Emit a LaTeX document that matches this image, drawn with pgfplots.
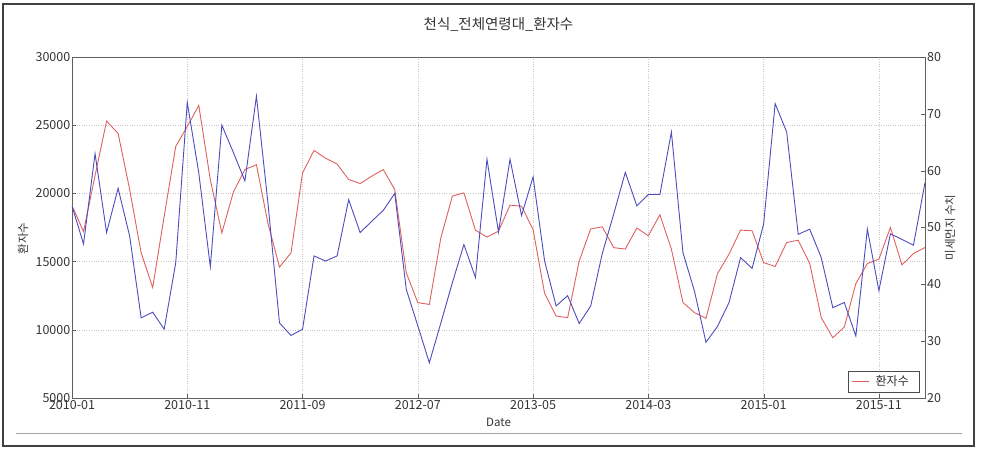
\documentclass[border=0pt]{standalone}
\usepackage{pgfplots}
\pgfplotsset{compat=1.18}
\usetikzlibrary{calc}
\usepackage{fontspec}
\setmainfont{Noto Sans CJK KR}

\definecolor{pred}{RGB}{224,96,96}
\definecolor{pblue}{RGB}{76,76,190}
\definecolor{axgray}{RGB}{95,95,95}

% month index (0 = 2010-01), patients (left axis)
\pgfplotstableread{
m v
0 19100
1 17200
2 21300
3 25300
4 24400
5 20300
6 15640
7 13100
8 18340
9 23450
10 24900
11 26450
12 21000
13 17100
14 20100
15 21750
16 22100
17 17800
18 14600
19 15640
20 21500
21 23150
22 22580
23 22150
24 21020
25 20720
26 21260
27 21750
28 20280
29 14180
30 11990
31 11860
32 16750
33 19800
34 20040
35 17300
36 16800
37 17230
38 19140
39 19060
40 17350
41 12670
42 11010
43 10890
44 15040
45 17400
46 17550
47 16020
48 15920
49 17460
50 16890
51 18440
52 15910
53 12000
54 11260
55 10840
56 14120
57 15550
58 17310
59 17260
60 14930
61 14640
62 16400
63 16570
64 14860
65 10890
66 9420
67 10200
68 13390
69 14860
70 15180
71 17500
72 14760
73 15590
74 16030
}\patients

% fine dust (right axis)
\pgfplotstableread{
m v
0 53.8
1 47.1
2 63.0
3 49.1
4 56.9
5 48.5
6 34.1
7 35.1
8 32.1
9 43.8
10 72.0
11 59.6
12 43.1
13 68.0
14 63.2
15 58.2
16 73.1
17 54.3
18 33.2
19 31.0
20 32.1
21 45.0
22 44.1
23 45.0
24 54.9
25 49.1
26 51.1
27 53.0
28 56.0
29 39.1
30 32.7
31 26.2
32 33.2
33 40.3
34 47.0
35 41.2
36 62.0
37 49.2
38 62.0
39 52.1
40 58.9
41 44.1
42 36.2
43 38.0
44 33.1
45 36.2
46 45.4
47 52.4
48 59.7
49 53.8
50 55.8
51 55.8
52 66.8
53 45.6
54 38.8
55 29.8
56 32.6
57 36.8
58 44.7
59 42.8
60 50.6
61 71.8
62 66.8
63 48.8
64 49.7
65 44.7
66 35.9
67 36.8
68 30.9
69 49.7
70 38.9
71 48.9
72 47.9
73 46.9
74 57.9
}\dust

\pgfplotsset{
  twin/.style={
    scale only axis,
    width=853pt, height=341pt,
    xmin=0, xmax=74,
    tick align=inside, major tick length=4pt,
    axis line style={axgray}, tick style={axgray},
    tick label style={font=\fontsize{12.5}{14}\selectfont, text=black!80},
    /pgf/number format/assume math mode=true,
    label style={font=\fontsize{11.5}{13}\selectfont, text=black!80},
  }
}

\begin{document}
\begin{tikzpicture}
\begin{axis}[twin, name=main,
  ymin=5000, ymax=30000,
  ytick={5000,10000,...,30000}, scaled y ticks=false,
  yticklabel style={/pgf/number format/1000 sep={}, inner xsep=1.5pt},
  xtick={0,10,...,70},
  xticklabels={2010-01,2010-11,2011-09,2012-07,2013-05,2014-03,2015-01,2015-11},
  xticklabel style={inner ysep=2.5pt},
  ytick pos=left, xtick pos=bottom,
  grid=major, grid style={dotted, black!22},
  title={천식\_전체연령대\_환자수},
  title style={font=\fontsize{14.5}{16}\selectfont, text=black!80, at={(axis description cs:0.5,1)}, anchor=center, yshift=27pt},
  xlabel={Date},
  xlabel style={at={(axis description cs:0.5,0)}, anchor=center, yshift=-24pt},
  ylabel={환자수},
  ylabel style={at={(axis description cs:0,0.5)}, anchor=center, yshift=49pt, xshift=-11pt},
  legend style={at={(axis description cs:1,0)}, anchor=south east, xshift=-6pt, yshift=6pt,
    draw=black!70, font=\fontsize{12}{14}\selectfont, text=black!80,
    inner xsep=4pt, inner ysep=2.5pt, nodes={inner xsep=6pt}},
  legend cell align=left,
]
\addplot[pred, line width=0.9pt] table[x=m, y=v] {\patients};
\addlegendentry{환자수}
\end{axis}

\begin{axis}[twin,
  ymin=20, ymax=80, ytick={20,30,...,80},
  axis x line=none, axis y line*=right,
  yticklabel style={inner xsep=2pt},
  ylabel={미세먼지 수치},
  ylabel style={at={(axis description cs:1,0.5)}, anchor=center, yshift=-25pt, xshift=0pt},
]
\addplot[pblue, line width=0.9pt] table[x=m, y=v] {\dust};
\end{axis}

% page frame, placed from the axis corner (axis box: 72..925 x 57..398 px)
\coordinate (o) at ($(main.south west)+(-72pt,-52pt)$);
\useasboundingbox (o) rectangle ($(o)+(983pt,450pt)$);
\draw[black!75, line width=1.3pt] ($(o)+(3pt,4pt)$) rectangle ($(o)+(974pt,446pt)$);
\draw[black!35, line width=1pt] ($(o)+(16pt,17pt)$) -- ($(o)+(962pt,17pt)$);
\end{tikzpicture}
\end{document}
